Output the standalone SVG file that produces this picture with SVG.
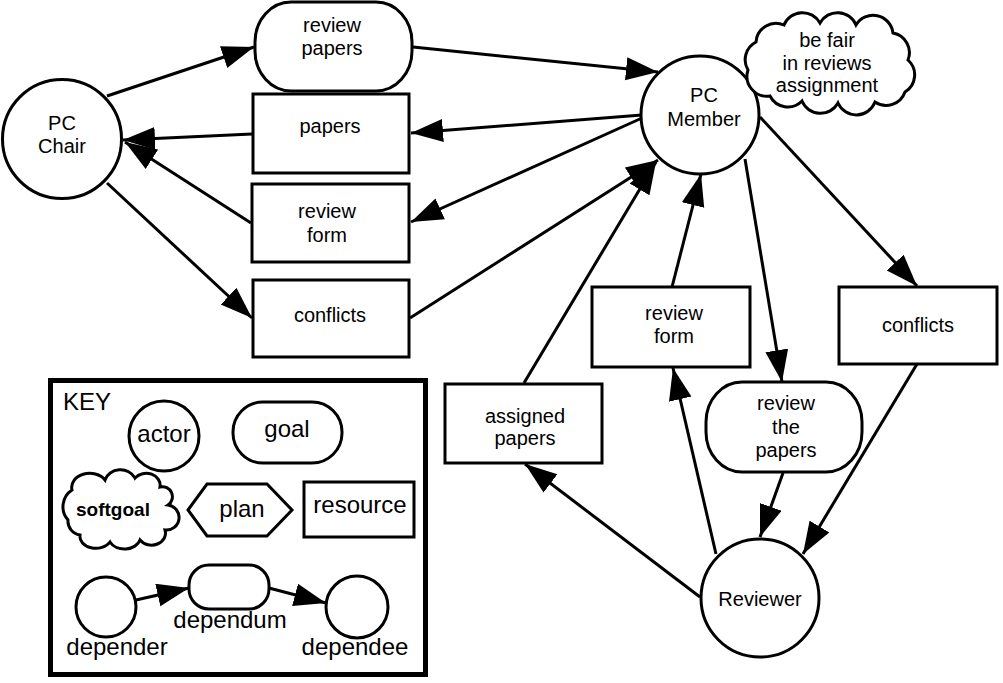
<svg xmlns="http://www.w3.org/2000/svg" width="1003" height="683" viewBox="0 0 1003 683">
<style>
  .n { fill: #fff; stroke: #000; stroke-width: 3; }
  .t { font-family: "Liberation Sans", Arial, sans-serif; font-size: 20px; fill: #000; text-anchor: middle; }
  .k { font-family: "Liberation Sans", Arial, sans-serif; font-size: 24px; fill: #000; text-anchor: middle; }
  .e { stroke: #000; stroke-width: 3; fill: none; marker-end: url(#ah); }
</style>
<defs>
  <marker id="ah" markerUnits="userSpaceOnUse" markerWidth="34" markerHeight="24" refX="32" refY="11.5" orient="auto">
    <path d="M0,0 L32,11.5 L0,23 Z" fill="#000"/>
  </marker>
</defs>
<rect width="1003" height="683" fill="#fff"/>

<g id="connectors">
  <line class="e" x1="107" y1="96" x2="254" y2="47"/>
  <line class="e" x1="413" y1="47" x2="658" y2="72"/>
  <line class="e" x1="642" y1="115" x2="411" y2="133"/>
  <line class="e" x1="252" y1="134" x2="123" y2="140"/>
  <line class="e" x1="251" y1="223" x2="125" y2="142"/>
  <line class="e" x1="642" y1="118" x2="411" y2="222"/>
  <line class="e" x1="107" y1="183" x2="252" y2="318"/>
  <line class="e" x1="410" y1="318" x2="658" y2="160"/>
  <line class="e" x1="524" y1="383" x2="656" y2="162"/>
  <line class="e" x1="672" y1="287" x2="701" y2="174"/>
  <line class="e" x1="745" y1="159" x2="782" y2="382"/>
  <line class="e" x1="760" y1="117" x2="917" y2="286"/>
  <line class="e" x1="700" y1="597" x2="525" y2="464"/>
  <line class="e" x1="716" y1="554" x2="673" y2="368"/>
  <line class="e" x1="783" y1="473" x2="760" y2="537"/>
  <line class="e" x1="917" y1="364" x2="803" y2="554"/>
</g>

<g id="pc-chair">
  <circle class="n" cx="62" cy="139" r="59.5"/>
  <text class="t" x="62" y="130">PC</text>
  <text class="t" x="62" y="153">Chair</text>
</g>
<g id="review-papers">
  <rect class="n" x="255" y="2" width="157" height="89" rx="36" ry="40"/>
  <text class="t" x="332" y="32">review</text>
  <text class="t" x="332" y="55">papers</text>
</g>
<g id="papers">
  <rect class="n" x="253" y="94" width="156" height="79"/>
  <text class="t" x="330" y="133">papers</text>
</g>
<g id="review-form-left">
  <rect class="n" x="252" y="184" width="157" height="78"/>
  <text class="t" x="327" y="218">review</text>
  <text class="t" x="327" y="242">form</text>
</g>
<g id="conflicts-left">
  <rect class="n" x="253" y="280" width="156" height="77"/>
  <text class="t" x="330" y="322">conflicts</text>
</g>
<g id="pc-member">
  <circle class="n" cx="700" cy="115" r="59"/>
  <text class="t" x="704" y="102">PC</text>
  <text class="t" x="704" y="126">Member</text>
</g>
<g id="be-fair">
  <path class="n" d="M756,42 A20,20 0 0 1 784,25 A20,20 0 0 1 820,23 A20,20 0 0 1 856,25 A20,20 0 0 1 893,33 A20,20 0 0 1 908,60 A20,20 0 0 1 905,92 A20,20 0 0 1 875,102 A20,20 0 0 1 838,103 A20,20 0 0 1 802,101 A20,20 0 0 1 770,96 A20,20 0 0 1 748,70 A20,20 0 0 1 756,42 Z"/>
  <text class="t" x="827" y="47">be fair</text>
  <text class="t" x="827" y="70">in reviews</text>
  <text class="t" x="827" y="92">assignment</text>
</g>
<g id="review-form-right">
  <rect class="n" x="592" y="287" width="158" height="80"/>
  <text class="t" x="674" y="320">review</text>
  <text class="t" x="674" y="343">form</text>
</g>
<g id="conflicts-right">
  <rect class="n" x="839" y="287" width="158" height="77"/>
  <text class="t" x="918" y="332">conflicts</text>
</g>
<g id="assigned-papers">
  <rect class="n" x="445" y="384" width="157" height="79"/>
  <text class="t" x="525" y="423">assigned</text>
  <text class="t" x="525" y="445">papers</text>
</g>
<g id="review-the-papers">
  <rect class="n" x="706" y="382" width="156" height="90" rx="36" ry="40"/>
  <text class="t" x="786" y="410">review</text>
  <text class="t" x="786" y="434">the</text>
  <text class="t" x="786" y="457">papers</text>
</g>
<g id="reviewer">
  <circle class="n" cx="760" cy="598" r="59"/>
  <text class="t" x="760" y="606">Reviewer</text>
</g>

<g id="key">
  <rect x="50.5" y="380.5" width="375" height="294" fill="#fff" stroke="#000" stroke-width="5"/>
  <text class="k" x="63" y="410" style="text-anchor:start">KEY</text>
  <g id="key-actor">
    <circle class="n" cx="164" cy="436" r="35"/>
    <text class="k" x="164" y="442">actor</text>
  </g>
  <g id="key-goal">
    <rect class="n" x="233" y="402" width="109" height="61" rx="30" ry="30"/>
    <text class="k" x="287" y="437">goal</text>
  </g>
  <g id="key-softgoal">
    <path class="n" d="M72,490 A18,14 0 0 1 105,480 A16,14 0 0 1 135,478 A14,12 0 0 1 160,487 A10,10 0 0 1 168,505 A12,12 0 0 1 165,530 A14,12 0 0 1 140,540 A16,12 0 0 1 110,542 A16,12 0 0 1 80,535 A14,14 0 0 1 68,520 A20,20 0 0 1 72,490 Z"/>
    <text class="t" x="113" y="516" style="font-weight:bold;font-size:19px">softgoal</text>
  </g>
  <g id="key-plan">
    <polygon class="n" points="188,510 207,484 267,484 292,510 267,536 207,536"/>
    <text class="k" x="242" y="517">plan</text>
  </g>
  <g id="key-resource">
    <rect class="n" x="304" y="482" width="110" height="55"/>
    <text class="k" x="360" y="513">resource</text>
  </g>
  <g id="key-depender">
    <circle class="n" cx="106" cy="607" r="30"/>
    <text class="k" x="117" y="655">depender</text>
  </g>
  <g id="key-dependum">
    <rect class="n" x="189" y="565" width="80" height="44" rx="20" ry="20"/>
    <text class="k" x="230" y="628">dependum</text>
  </g>
  <g id="key-dependee">
    <circle class="n" cx="357" cy="607" r="31"/>
    <text class="k" x="355" y="655">dependee</text>
  </g>
  <g id="key-connectors">
    <line class="e" x1="136" y1="600" x2="189" y2="588"/>
    <line class="e" x1="269" y1="588" x2="326" y2="603"/>
  </g>
</g>
</svg>
